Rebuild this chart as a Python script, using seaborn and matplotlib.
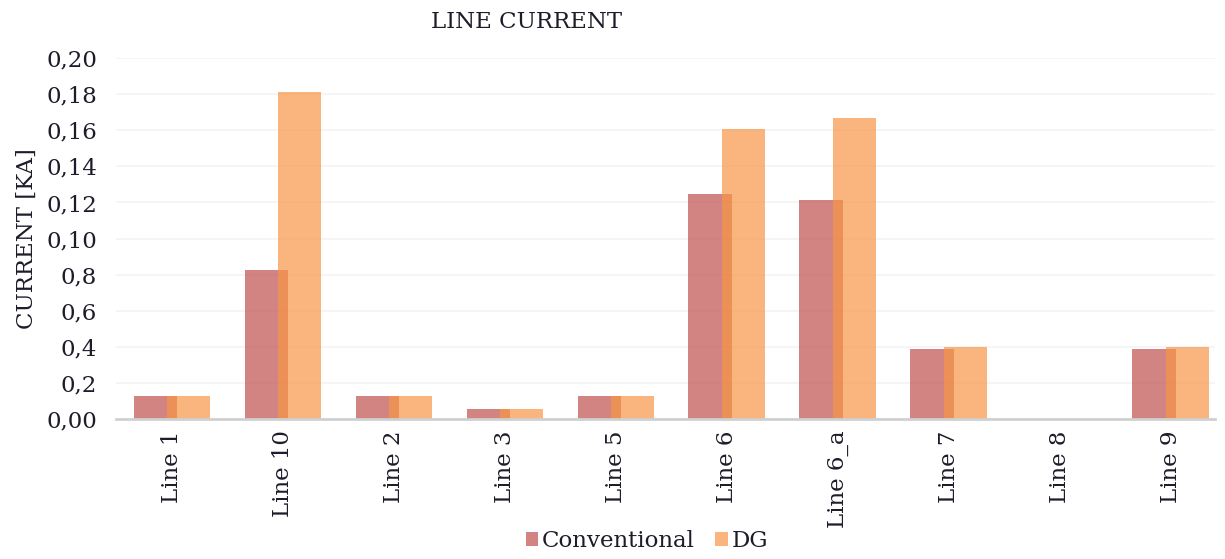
import matplotlib
matplotlib.use("Agg")
import matplotlib.pyplot as plt
from matplotlib.patches import Patch
import pandas as pd
import seaborn as sns

lines = ["Line 1", "Line 10", "Line 2", "Line 3", "Line 5",
         "Line 6", "Line 6_a", "Line 7", "Line 8", "Line 9"]
conventional = [0.013, 0.0825, 0.013, 0.0055, 0.013, 0.1247, 0.1213, 0.0388, 0.0, 0.0388]
dg = [0.013, 0.181, 0.013, 0.0055, 0.013, 0.1607, 0.167, 0.0399, 0.0, 0.0399]
series = ["Conventional", "DG"]
ytick_vals = [0.00, 0.02, 0.04, 0.06, 0.08, 0.10, 0.12, 0.14, 0.16, 0.18, 0.20]
ytick_labels = ["0,00", "0,2", "0,4", "0,6", "0,8", "0,10", "0,12", "0,14", "0,16", "0,18", "0,20"]

colors = ["#c0504d", "#f79646"]
txt = "#1c1c2a"

df = pd.DataFrame({
    "line": lines * 2,
    "value": conventional + dg,
    "series": [series[0]] * len(lines) + [series[1]] * len(lines),
})

sns.set_theme(style="white")
plt.rcParams["font.family"] = ["DejaVu Serif"]

fig = plt.figure(figsize=(12.25, 5.59), dpi=100)
ax = fig.add_axes([0.0951, 0.2504, 0.8967, 0.6456])

sns.barplot(data=df, x="line", y="value", hue="series", order=lines,
            hue_order=series, palette=colors, width=0.6, alpha=0.7,
            saturation=1, legend=False, ax=ax)

# widen the bars so the two series overlap a little, like the original
for cont in ax.containers:
    for bar in cont:
        cx = bar.get_x() + bar.get_width() / 2
        bar.set_width(0.39)
        bar.set_x(cx - 0.195)
        bar.set_linewidth(0)

ax.set_xlim(-0.5, 9.4)
ax.set_ylim(0, 0.2)
ax.set_yticks(ytick_vals)
ax.set_yticklabels(ytick_labels, fontsize=16.5, color=txt)
ax.tick_params(axis="y", length=0, pad=14)
ax.tick_params(axis="x", length=0, pad=8)
plt.setp(ax.get_xticklabels(), rotation=90, fontsize=16.5, color=txt)
ax.yaxis.grid(True, color="#f3f3f3", linewidth=1.2)
ax.set_axisbelow(True)
for s in ["top", "right", "left"]:
    ax.spines[s].set_visible(False)
ax.spines["bottom"].set_color("#d0d0d0")
ax.spines["bottom"].set_linewidth(2)

ax.set_xlabel("")
ax.set_ylabel("CURRENT [KA]", fontsize=16.5, color=txt, labelpad=6)

fig.text(0.43, 0.96, "LINE CURRENT", ha="center", va="center", fontsize=16.5, color=txt)

handles = [Patch(facecolor=c, alpha=0.7, edgecolor="none") for c in colors]
fig.legend(handles, series, loc="lower center", bbox_to_anchor=(0.528, -0.025),
           ncol=2, frameon=False, fontsize=16.5, handlelength=0.55, handleheight=0.55,
           handletextpad=0.15, columnspacing=0.9, labelcolor=txt)

fig.savefig("out.png", dpi=100)
